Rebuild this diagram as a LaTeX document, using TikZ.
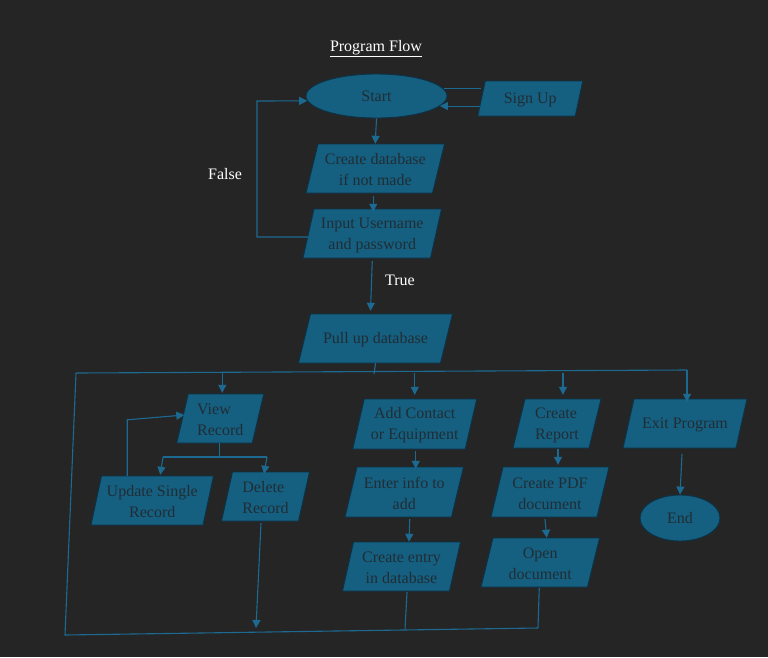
\documentclass[tikz,border=0pt]{standalone}
\usepackage{fontspec}
\setmainfont{Liberation Serif}
\usetikzlibrary{arrows.meta,shapes.geometric,calc}

\definecolor{bgcol}{HTML}{252525}
\definecolor{boxfill}{HTML}{155F80}
\definecolor{boxedge}{HTML}{0B3348}
\definecolor{boxink}{HTML}{212D35}
\definecolor{wire}{HTML}{1C6A91}

\tikzset{
  txt/.style={font=\fontsize{16}{21}\selectfont},
  boxshape/.style={fill=boxfill, draw=boxedge, line width=0.9pt},
  boxtext/.style={txt, text=boxink, inner sep=0pt},
  ovalbox/.style={ellipse, boxshape, txt, text=boxink, inner sep=0pt},
  wirel/.style={draw=wire, line width=1.1pt},
  arr/.style={wirel, -{Triangle[length=8pt,width=8pt]}},
  lbl/.style={txt, text=white},
}

% parallelogram: name, centre x, centre y, width, height, half skew, alignment, text
\newcommand{\pgram}[8]{%
  \filldraw[boxshape] ({#2-#4/2+#6},{#3-#5/2}) -- ({#2+#4/2+#6},{#3-#5/2})
    -- ({#2+#4/2-#6},{#3+#5/2}) -- ({#2-#4/2-#6},{#3+#5/2}) -- cycle;
  \node[boxtext, minimum width=#4pt, minimum height=#5pt, align=#7] (#1) at (#2,{#3+1.5}) {#8};}

\begin{document}
\begin{tikzpicture}[x=1pt,y=-1pt]
  \fill[bgcol] (0,0) rectangle (768,657);
  \useasboundingbox (0,0) rectangle (768,657);

  \node[lbl] (title) at (376,49) {\underline{Program Flow}};

  % top section
  \node[ovalbox, minimum width=141pt, minimum height=44pt] (start) at (376.5,96) {Start};
  \pgram{signup}{530.25}{98.5}{97.5}{35}{3.75}{center}{Sign Up}
  \pgram{createdb}{375.25}{168.5}{126.5}{49}{6}{center}{Create database\\if not made}
  \pgram{login}{372.25}{233.5}{127.5}{49}{5.5}{center}{Input Username\\and password}
  \pgram{pull}{375.5}{338.5}{142}{49}{6}{center}{Pull up database}

  % menu options
  \pgram{view}{220.25}{418.5}{75.5}{49}{5.75}{left}{View\\Record}
  \pgram{update}{152.25}{500.5}{112}{49}{5.25}{center}{Update Single\\Record}
  \pgram{delete}{265.5}{496.5}{77}{49}{5.5}{left}{Delete\\Record}
  \pgram{add}{414.75}{424}{112.5}{50}{5.75}{center}{Add Contact\\or Equipment}
  \pgram{enter}{404.25}{492}{106.5}{50}{6}{center}{Enter info to\\add}
  \pgram{entry}{401.5}{566.5}{107}{49}{5.5}{center}{Create entry\\in database}
  \pgram{report}{557}{423.5}{76}{49}{6}{left}{Create\\Report}
  \pgram{pdf}{550}{492}{106}{50}{6}{center}{Create PDF\\document}
  \pgram{open}{540.25}{562.5}{106.5}{49}{6}{center}{Open\\document}
  \pgram{exit}{685}{423.5}{113}{49}{5.5}{center}{Exit Program}
  \node[ovalbox, minimum width=80pt, minimum height=46pt] (end) at (680,518) {End};

  \node[lbl] (false) at (225,174) {False};
  \node[lbl] (true) at (400,280) {True};

  % routing points
  \coordinate (loopcorner) at (257,101);
  \coordinate (busL) at (76,373);
  \coordinate (busR) at (687,370);
  \coordinate (baseL) at (65,635);
  \coordinate (baseR) at (538,628);
  \coordinate (splitL) at (163,457);
  \coordinate (splitR) at (267,457);
  \coordinate (deleteEnd) at (256,628);

  % start / sign up exchange
  \draw[wirel] (start.6) -- (start.6 -| signup.west);
  \draw[arr] ([xshift=-1pt]start.-9 -| signup.west) -- (start.-9);

  % login sequence
  \draw[arr] (start.south) -- ([yshift=1.5pt]createdb.north);
  \draw[arr] ([xshift=-2pt,yshift=-1.5pt]createdb.south) -- ([xshift=1pt,yshift=-1.5pt]login.north);
  \draw[arr] ([yshift=-2pt]login.west) -| (loopcorner) -- (start.184);
  \draw[arr] ([yshift=-1.5pt]login.south) -- ([xshift=-5pt,yshift=4.5pt]pull.north);

  % distribution bus
  \draw[wirel] ([yshift=1.5pt]pull.south) -- ([xshift=-1.5pt,yshift=-9.5pt]pull.south);
  \draw[wirel] (busL) -- (busR);
  \draw[arr] ([xshift=2pt]view.north |- busL) -- ([xshift=2pt,yshift=2.5pt]view.north);
  \draw[arr] (add.north |- busL) -- ([yshift=5.5pt]add.north);
  \draw[arr] ([xshift=6pt]report.north |- busL) -- ([xshift=6pt,yshift=5.5pt]report.north);
  \draw[arr] (busR) -- ([xshift=2pt,yshift=-1.5pt]exit.north);

  % record branch
  \draw[wirel] ([xshift=-1pt,yshift=1.5pt]view.south) -- ([xshift=-1pt,yshift=-12.5pt]view.south);
  \draw[wirel] (splitL) -- (splitR);
  \draw[arr] (splitL) -- ([xshift=8pt,yshift=2.5pt]update.north);
  \draw[arr] (splitR) -- ([xshift=-1.5pt,yshift=-0.5pt]delete.north);
  \draw[arr] ([xshift=-25pt,yshift=1.5pt]update.north) -- ++(0,-56) -- ([xshift=2pt,yshift=5pt]view.west);
  \draw[arr] ([xshift=-4.5pt,yshift=-0.5pt]delete.south) -- (deleteEnd);

  % add branch
  \draw[arr] ([xshift=1pt,yshift=-0.5pt]add.south) -- ([xshift=1pt,yshift=-0.5pt]add.south |- enter.north);
  \draw[arr] ([xshift=5.5pt,yshift=-0.5pt]enter.south) -- ([xshift=7.5pt,yshift=1.5pt]entry.north);
  \draw[wirel] ([xshift=5.5pt,yshift=0.5pt]entry.south) -- ([xshift=3.5pt,yshift=-36.5pt]entry.south);

  % report branch
  \draw[arr] ([xshift=1pt,yshift=0.5pt]report.south) -- ([xshift=1pt,yshift=3.5pt]report.south |- pdf.north);
  \draw[arr] ([xshift=-5pt,yshift=-0.5pt]pdf.south) -- ([xshift=6.5pt,yshift=1.5pt]open.north);
  \draw[wirel] ([xshift=-1pt,yshift=0.5pt]open.south) -- (baseR);

  % return line
  \draw[wirel] (baseR) -- (baseL) -- (busL);

  % exit
  \draw[arr] ([xshift=-3pt,yshift=-4.5pt]exit.south) -- (end.north);
\end{tikzpicture}
\end{document}
